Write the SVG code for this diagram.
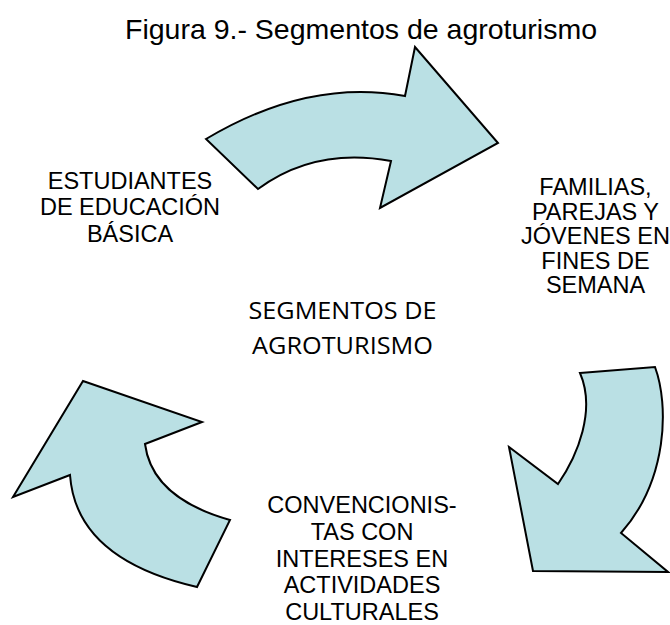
<svg xmlns="http://www.w3.org/2000/svg" width="670" height="625" viewBox="0 0 670 625">
<style>
.arrow{fill:#bae0e4;stroke:#000;stroke-width:2;stroke-linejoin:miter}
.lbl{font-family:"Liberation Sans",Arial,sans-serif;font-size:23.5px;fill:#000;text-anchor:middle}
.title{font-family:"Liberation Sans",Arial,sans-serif;font-size:28.5px;fill:#000;text-anchor:middle}
.center{font-family:"Open Sans","Noto Sans",sans-serif;font-size:23px;fill:#000;text-anchor:middle}
</style>
<rect width="670" height="625" fill="#fff"/>
<g id="title"><text class="title" x="361" y="39">Figura 9.- Segmentos de agroturismo</text></g>
<g id="connectors">
<path class="arrow" d="M206,139 Q308,78 405,96 L415,47 L498,143 L380,208 L391,161 Q315,147 258,189 Z"/>
<path class="arrow" d="M580,373 L655,367 C669,405 668,480 621,533 L668,572 L533,571 L509,447 L558,484 C578,455 596,410 580,373 Z"/>
<path class="arrow" d="M83,381 L202,422 L145,444 Q152,498 230,520 L197,587 Q76,559 70,475 L13,497 Z"/>
</g>
<g id="node-estudiantes">
<text class="lbl" x="130" y="188.5">ESTUDIANTES</text>
<text class="lbl" x="130" y="215.3">DE EDUCACIÓN</text>
<text class="lbl" x="130" y="242">BÁSICA</text>
</g>
<g id="node-familias">
<text class="lbl" x="595.5" y="194.5">FAMILIAS,</text>
<text class="lbl" x="595.5" y="219.5">PAREJAS Y</text>
<text class="lbl" x="595.5" y="244">JÓVENES EN</text>
<text class="lbl" x="595.5" y="268.5">FINES DE</text>
<text class="lbl" x="595.5" y="293">SEMANA</text>
</g>
<g id="node-convencionistas">
<text class="lbl" x="362" y="513">CONVENCIONIS-</text>
<text class="lbl" x="362" y="540">TAS CON</text>
<text class="lbl" x="362" y="567">INTERESES EN</text>
<text class="lbl" x="362" y="593">ACTIVIDADES</text>
<text class="lbl" x="362" y="620">CULTURALES</text>
</g>
<g id="node-center">
<text class="center" x="342.5" y="319" textLength="188" lengthAdjust="spacingAndGlyphs">SEGMENTOS DE</text>
<text class="center" x="342.5" y="354" textLength="181" lengthAdjust="spacingAndGlyphs">AGROTURISMO</text>
</g>
</svg>
